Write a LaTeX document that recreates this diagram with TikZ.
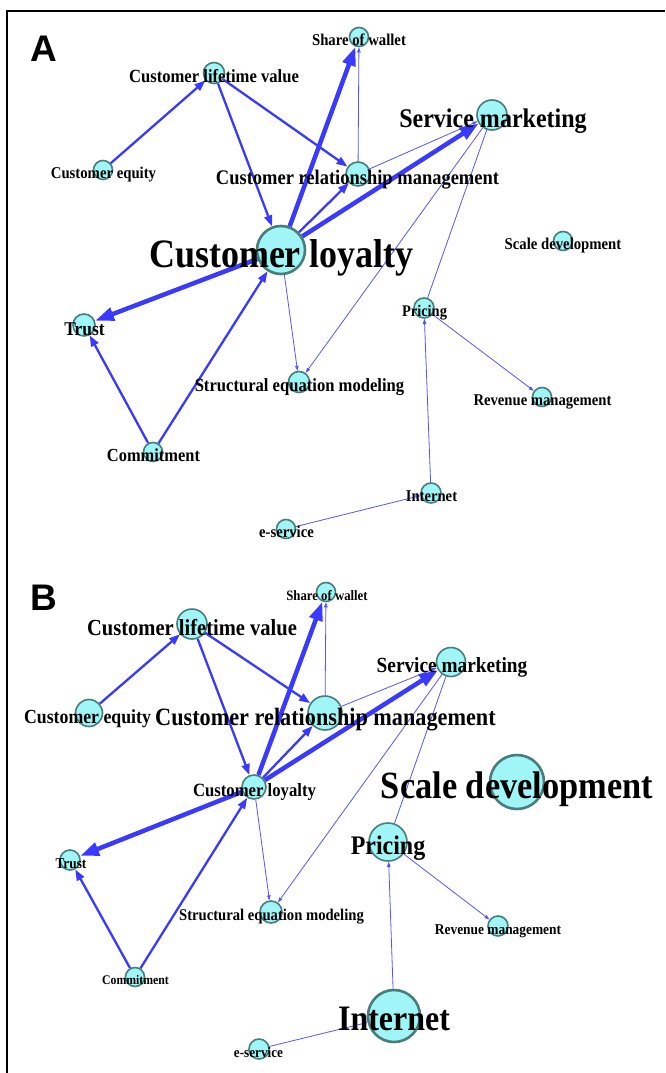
\documentclass[tikz,border=0pt]{standalone}
\usepackage{graphicx}
\usepackage{fontspec}
\setmainfont{Liberation Serif}
\newfontfamily\panelfont{Liberation Sans}
\usetikzlibrary{arrows.meta}
\definecolor{nodefill}{RGB}{160,246,246}
\definecolor{nodeborder}{RGB}{72,125,125}
\definecolor{edgeblue}{RGB}{58,58,255}
\definecolor{thinblue}{RGB}{85,85,255}
\newcommand\nt[1]{\scalebox{0.893}[1]{#1}}
\tikzset{
  vtx/.style={circle, inner sep=0pt, minimum size=#1, draw=nodeborder, fill=nodefill, line width=1.6pt},
  bigvtx/.style={vtx=#1, line width=2.6pt},
  lbl/.style={font=\bfseries\fontsize{#1}{#1}\selectfont, anchor=base, inner sep=0pt, text=black},
  panel/.style={font=\panelfont\bfseries\fontsize{37}{37}\selectfont, anchor=base, inner sep=0pt},
  ethin/.style={draw=thinblue, line width=0.8pt, -{Triangle[length=5pt,width=3.5pt]}},
  eplain/.style={draw=thinblue, line width=0.8pt},
  emed/.style={draw=edgeblue, line width=2.3pt, -{Triangle[length=11pt,width=8pt]}},
  ethick/.style={draw=edgeblue, line width=4.5pt, -{Triangle[length=19pt,width=13pt]}}
}
\begin{document}
\begin{tikzpicture}[x=1pt,y=-1pt]
\useasboundingbox (0,0) rectangle (665,1073);
\fill[white] (0,0) rectangle (665,1073);
\draw[line width=2pt] (7,1073) -- (7,11) -- (665,11);

% ---------------- Panel A ----------------
\node[panel] (pA) at (43.5,62) {A};
\node[vtx=19] (aSW) at (359,37) {};
\node[vtx=21] (aCLV) at (214,73) {};
\node[vtx=19] (aCE) at (103,170) {};
\node[vtx=30] (aSM) at (492,115) {};
\node[vtx=24] (aCRM) at (358,174) {};
\node[bigvtx=48] (aCL) at (281,250) {};
\node[vtx=19] (aSD) at (563,241) {};
\node[vtx=22] (aTR) at (84,325) {};
\node[vtx=20] (aPR) at (424,308) {};
\node[vtx=21] (aSEM) at (299,382) {};
\node[vtx=19] (aRM) at (542,397) {};
\node[vtx=19] (aCO) at (153,452) {};
\node[vtx=20] (aIN) at (431,493) {};
\node[vtx=19] (aES) at (286,529) {};

\draw[emed] (aCE) -- (aCLV);
\draw[emed] (aCLV) -- (aCL);
\draw[emed] (aCLV) -- (aCRM);
\draw[emed] (aCL) -- (aCRM);
\draw[emed] (aCO) -- (aTR);
\draw[emed] (aCO) -- (aCL);
\draw[ethin] (aCRM) -- (aSW);
\draw[ethin] (aCRM) -- (aSM);
\draw[ethin] (aCL) -- (aSEM);
\draw[ethin] (aSM) -- (aSEM);
\draw[eplain] (aSM) -- (aPR);
\draw[ethin] (aPR) -- (aRM);
\draw[ethin] (aIN) -- (aPR);
\draw[ethin] (aES) -- (aIN);
\draw[ethick] (aCL) -- (aSW);
\draw[ethick] (aCL) -- (aSM);
\draw[ethick] (aCL) -- (aTR);

\node[lbl=16.5] (aSWt) at (359,45.8) {\nt{Share of wallet}};
\node[lbl=18.6] (aCLVt) at (214,82.6) {\nt{Customer lifetime value}};
\node[lbl=16.5] (aCEt) at (103.5,178.8) {\nt{Customer equity}};
\node[lbl=26.9] (aSMt) at (493,127.6) {\nt{Service marketing}};
\node[lbl=20.7] (aCRMt) at (357.5,184.4) {\nt{Customer relationship management}};
\node[lbl=40.3] (aCLt) at (281.5,267.5) {\nt{Customer loyalty}};
\node[lbl=16.5] (aSDt) at (563,249.8) {\nt{Scale development}};
\node[lbl=19.5] (aTRt) at (84.5,335) {\nt{Trust}};
\node[lbl=16.2] (aPRt) at (424.5,316.8) {\nt{Pricing}};
\node[lbl=18.6] (aSEMt) at (299.5,391.6) {\nt{Structural equation modeling}};
\node[lbl=16.4] (aRMt) at (542.5,405.8) {\nt{Revenue management}};
\node[lbl=18.4] (aCOt) at (153.5,461.5) {\nt{Commitment}};
\node[lbl=16.4] (aINt) at (431.5,501.8) {\nt{Internet}};
\node[lbl=16.5] (aESt) at (286.5,537.8) {\nt{e-service}};

% ---------------- Panel B ----------------
\node[panel] (pB) at (44,610) {B};
\node[vtx=19] (bSW) at (326,592) {};
\node[vtx=30] (bCLV) at (192,624) {};
\node[vtx=29] (bSM) at (451,662) {};
\node[vtx=27] (bCE) at (89,713) {};
\node[vtx=34] (bCRM) at (325,713) {};
\node[vtx=24] (bCL) at (254,787) {};
\node[bigvtx=54] (bSD) at (517,782) {};
\node[vtx=20] (bTR) at (70,860) {};
\node[vtx=38] (bPR) at (388,842) {};
\node[vtx=22] (bSEM) at (271,912) {};
\node[vtx=20] (bRM) at (498,926) {};
\node[vtx=19] (bCO) at (135,977) {};
\node[bigvtx=52] (bIN) at (394,1016) {};
\node[vtx=20] (bES) at (259,1049) {};

\draw[emed] (bCE) -- (bCLV);
\draw[emed] (bCLV) -- (bCL);
\draw[emed] (bCLV) -- (bCRM);
\draw[emed] (bCL) -- (bCRM);
\draw[emed] (bCO) -- (bTR);
\draw[emed] (bCO) -- (bCL);
\draw[ethin] (bCRM) -- (bSW);
\draw[ethin] (bCRM) -- (bSM);
\draw[ethin] (bCL) -- (bSEM);
\draw[ethin] (bSM) -- (bSEM);
\draw[eplain] (bSM) -- (bPR);
\draw[ethin] (bPR) -- (bRM);
\draw[ethin] (bIN) -- (bPR);
\draw[ethin] (bES) -- (bIN);
\draw[ethick] (bCL) -- (bSW);
\draw[ethick] (bCL) -- (bSM);
\draw[ethick] (bCL) -- (bTR);

\node[lbl=14.3] (bSWt) at (327,600) {\nt{Share of wallet}};
\node[lbl=23] (bCLVt) at (192,635.2) {\nt{Customer lifetime value}};
\node[lbl=19.9] (bCEt) at (87.5,723) {\nt{Customer equity}};
\node[lbl=21.6] (bSMt) at (452,672.8) {\nt{Service marketing}};
\node[lbl=24.9] (bCRMt) at (325.5,725) {\nt{Customer relationship management}};
\node[lbl=18.7] (bCLt) at (254.5,796.6) {\nt{Customer loyalty}};
\node[lbl=38.5] (bSDt) at (517,798.5) {\nt{Scale development}};
\node[lbl=14.9] (bTRt) at (71,868.2) {\nt{Trust}};
\node[lbl=26.8] (bPRt) at (388,854.5) {\nt{Pricing}};
\node[lbl=16.4] (bSEMt) at (271.5,920.8) {\nt{Structural equation modeling}};
\node[lbl=15] (bRMt) at (498,934.2) {\nt{Revenue management}};
\node[lbl=13.2] (bCOt) at (135.5,984.5) {\nt{Commitment}};
\node[lbl=35.8] (bINt) at (394,1030) {\nt{Internet}};
\node[lbl=14.8] (bESt) at (258.5,1057.2) {\nt{e-service}};
\end{tikzpicture}
\end{document}
